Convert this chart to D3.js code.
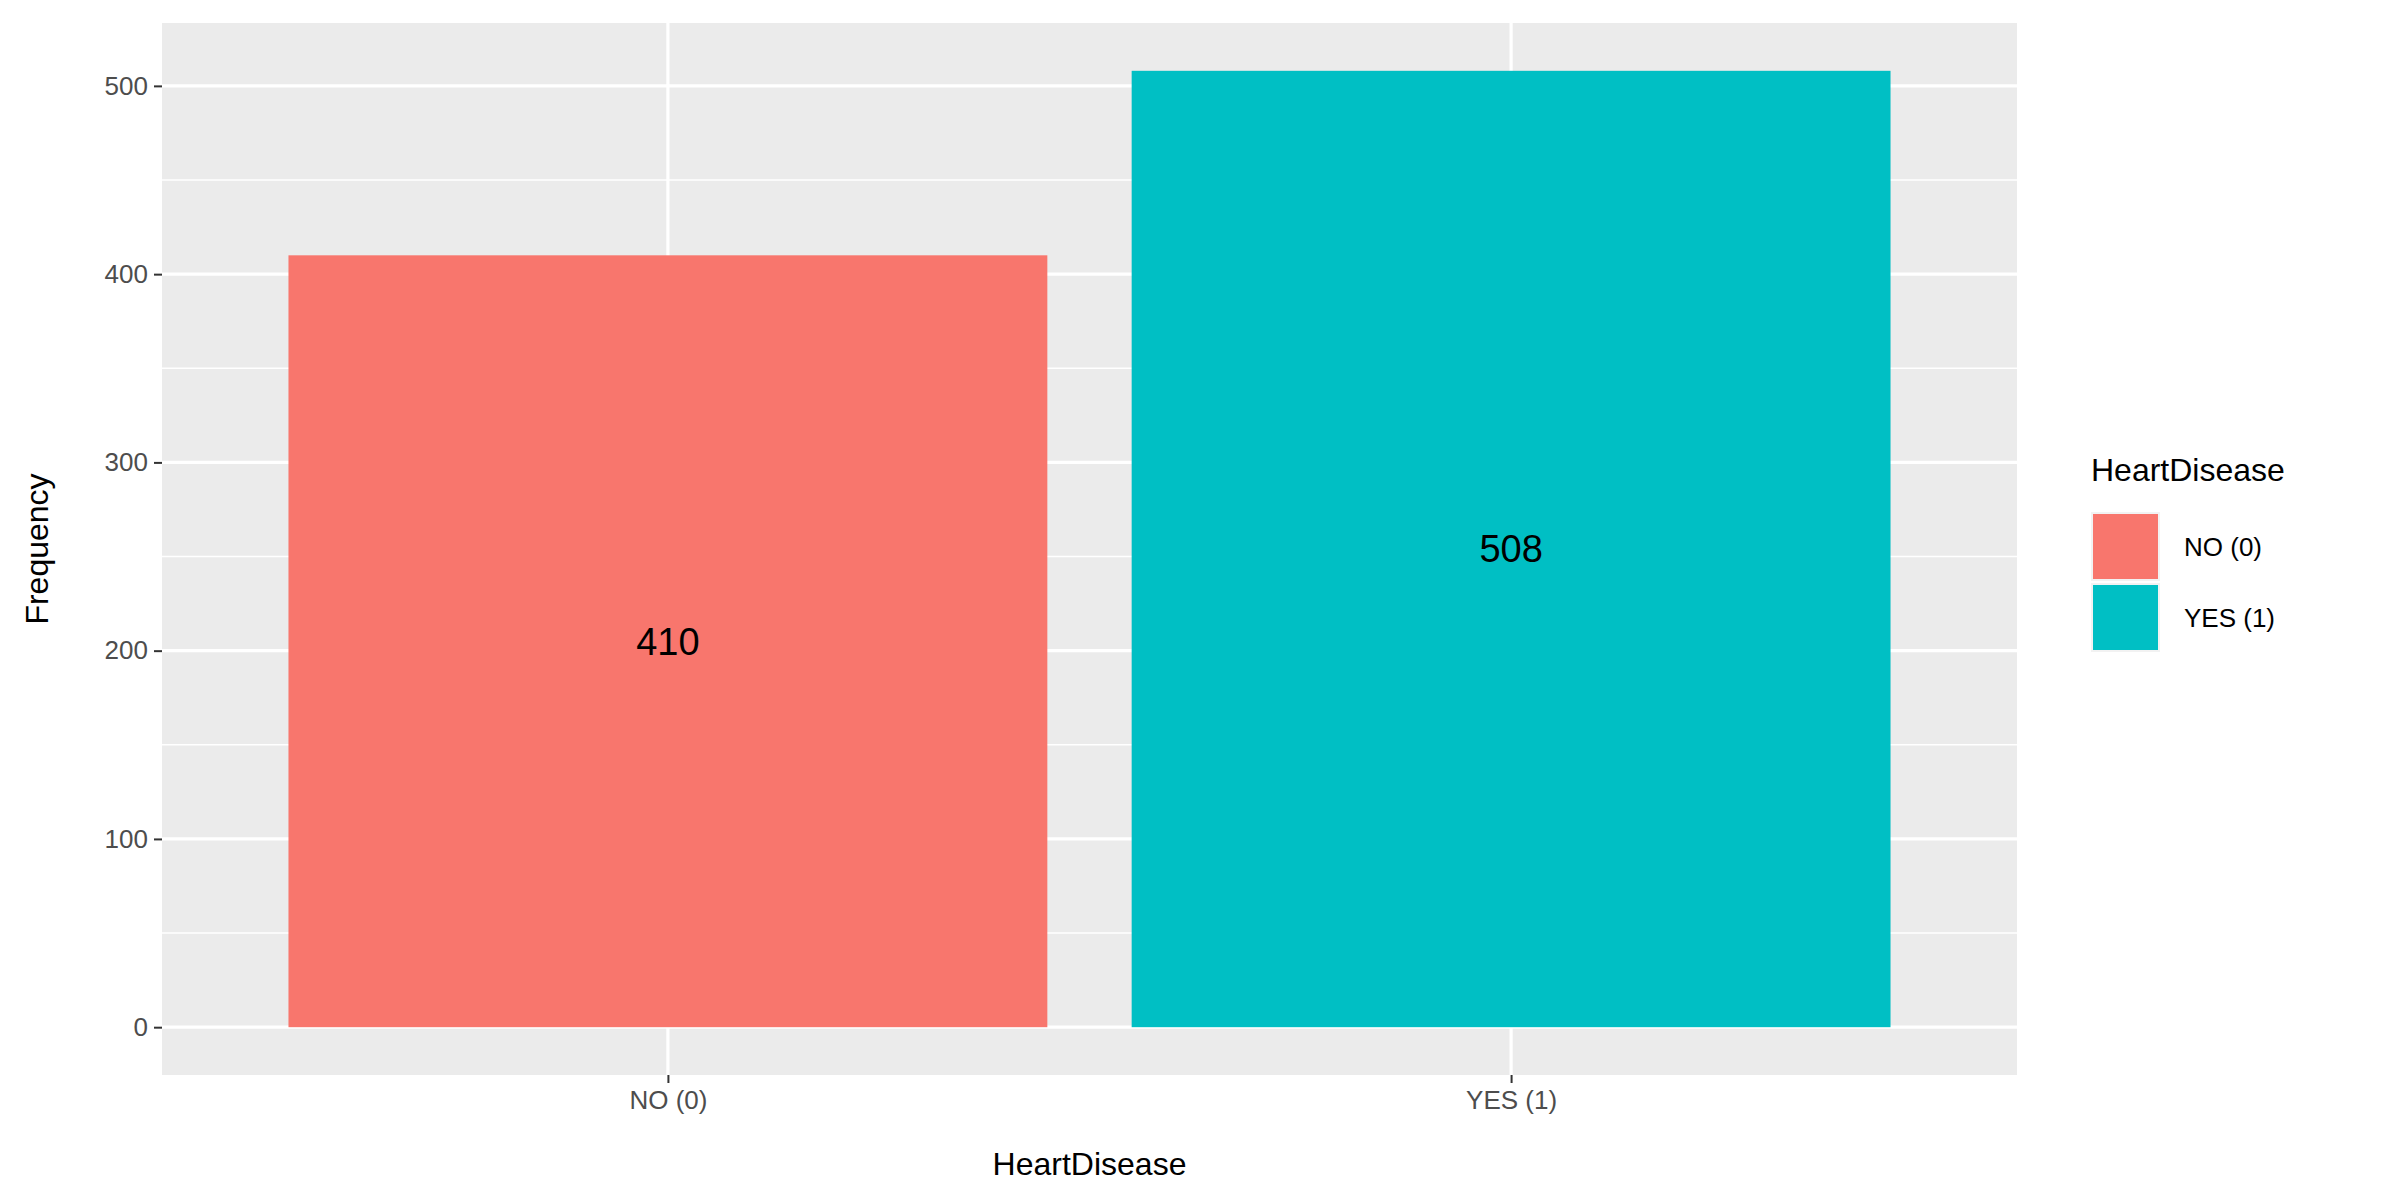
<!DOCTYPE html><html><head><script src="https://cdn.jsdelivr.net/npm/d3@7"></script>
<style>body{margin:0;background:#fff}text{font-family:Arial,"Liberation Sans",sans-serif}</style></head><body>
<svg id="c" width="2400" height="1200"></svg>
<script>
const categories=["NO (0)","YES (1)"];
const values=[410,508];
const colors=["#F8766D","#00BFC4"];
const yTicks=[0,100,200,300,400,500];
const svg=d3.select("#c");
const L=162,R=2017,T=23,B=1075;
const x=d3.scaleLinear().domain([0.4,2.6]).range([L,R]);
const y=d3.scaleLinear().domain([-25.4,533.4]).range([B,T]);
svg.append("rect").attr("x",L).attr("y",T).attr("width",R-L).attr("height",B-T).attr("fill","#EBEBEB");
const minor=[50,150,250,350,450];
minor.forEach(v=>svg.append("line").attr("x1",L).attr("x2",R).attr("y1",y(v)).attr("y2",y(v)).attr("stroke","#fff").attr("stroke-width",1.6));
yTicks.forEach(v=>svg.append("line").attr("x1",L).attr("x2",R).attr("y1",y(v)).attr("y2",y(v)).attr("stroke","#fff").attr("stroke-width",3.2));
categories.forEach((c,i)=>svg.append("line").attr("x1",x(i+1)).attr("x2",x(i+1)).attr("y1",T).attr("y2",B).attr("stroke","#fff").attr("stroke-width",3.2));
categories.forEach((c,i)=>{
 svg.append("rect").attr("x",x(i+1-0.45)).attr("width",x(i+1.45)-x(i+0.55)).attr("y",y(values[i])).attr("height",y(0)-y(values[i])).attr("fill",colors[i]);
 svg.append("text").attr("x",x(i+1)).attr("y",y(values[i]/2)).attr("text-anchor","middle").attr("dy","0.35em").attr("font-size",38).attr("fill","#000").text(values[i]);
});
const ya=svg.append("g").attr("transform",`translate(${L},0)`).call(d3.axisLeft(y).tickValues(yTicks).tickSize(8).tickPadding(6));
ya.select(".domain").remove();
ya.selectAll("line").attr("stroke","#333").attr("stroke-width",2);
ya.selectAll("text").attr("font-size",26).attr("fill","#4D4D4D");
const xa=svg.append("g").attr("transform",`translate(0,${B})`).call(d3.axisBottom(x).tickValues([1,2]).tickFormat((d)=>categories[d-1]).tickSize(8).tickPadding(8));
xa.select(".domain").remove();
xa.selectAll("line").attr("stroke","#333").attr("stroke-width",2);
xa.selectAll("text").attr("font-size",26).attr("fill","#4D4D4D");
svg.append("text").attr("x",(L+R)/2).attr("y",1175).attr("text-anchor","middle").attr("font-size",32).text("HeartDisease");
svg.append("text").attr("transform",`translate(48,${(T+B)/2}) rotate(-90)`).attr("text-anchor","middle").attr("font-size",32).text("Frequency");
svg.append("text").attr("x",2091).attr("y",481).attr("font-size",32).text("HeartDisease");
categories.forEach((c,i)=>{
 const yy=512+i*71;
 svg.append("rect").attr("x",2091).attr("y",yy).attr("width",69).attr("height",69).attr("fill","#F2F2F2");
 svg.append("rect").attr("x",2093).attr("y",yy+2).attr("width",65).attr("height",65).attr("fill",colors[i]);
 svg.append("text").attr("x",2184).attr("y",yy+35).attr("dy","0.35em").attr("font-size",26).text(c);
});
</script></body></html>
